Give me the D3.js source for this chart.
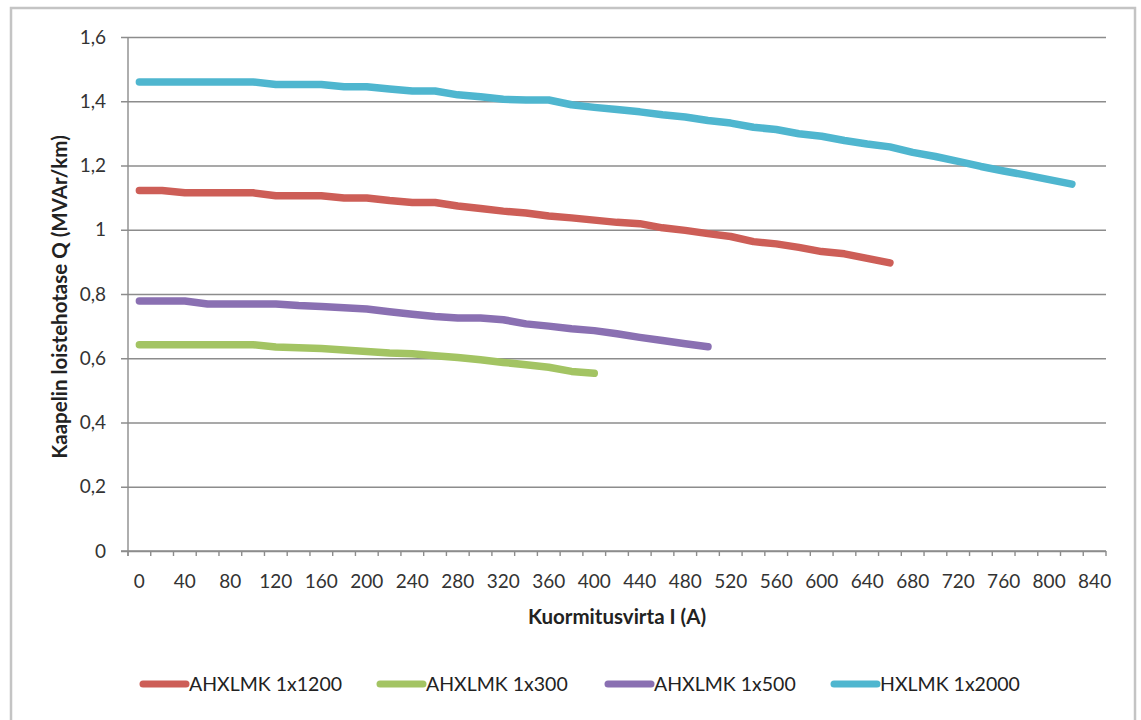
<!DOCTYPE html>
<html>
<head>
<meta charset="utf-8">
<script src="https://cdn.jsdelivr.net/npm/d3@7"></script>
<style>
  html, body { margin: 0; padding: 0; background: #ffffff; }
  svg { display: block; }
</style>
</head>
<body>
<svg id="chart" width="1141" height="720"></svg>
<script>
// Load current categories (A)
const currents = [0, 20, 40, 60, 80, 100, 120, 140, 160, 180, 200, 220, 240, 260, 280, 300,
  320, 340, 360, 380, 400, 420, 440, 460, 480, 500, 520, 540, 560, 580, 600, 620, 640, 660,
  680, 700, 720, 740, 760, 780, 800, 820, 840];

// Reactive power balance Q (MVAr/km) per cable type
const ahxlmk1x1200 = [1.122, 1.122, 1.115, 1.115, 1.115, 1.115, 1.106, 1.106, 1.106, 1.099,
  1.099, 1.091, 1.085, 1.085, 1.074, 1.066, 1.058, 1.052, 1.043, 1.037, 1.030, 1.023, 1.019,
  1.006, 0.998, 0.988, 0.979, 0.963, 0.956, 0.945, 0.932, 0.925, 0.911, 0.897];
const ahxlmk1x300 = [0.642, 0.642, 0.642, 0.642, 0.642, 0.642, 0.635, 0.633, 0.630, 0.626,
  0.621, 0.616, 0.614, 0.608, 0.602, 0.595, 0.587, 0.580, 0.572, 0.559, 0.553];
const ahxlmk1x500 = [0.778, 0.778, 0.778, 0.769, 0.769, 0.769, 0.769, 0.764, 0.761, 0.757,
  0.753, 0.745, 0.737, 0.730, 0.725, 0.725, 0.720, 0.707, 0.700, 0.692, 0.686, 0.676, 0.665,
  0.655, 0.645, 0.636];
const hxlmk1x2000 = [1.460, 1.460, 1.460, 1.460, 1.460, 1.460, 1.452, 1.452, 1.452, 1.445,
  1.445, 1.438, 1.432, 1.432, 1.420, 1.414, 1.406, 1.404, 1.404, 1.389, 1.381, 1.374, 1.367,
  1.358, 1.351, 1.340, 1.332, 1.319, 1.312, 1.299, 1.291, 1.278, 1.267, 1.258, 1.241, 1.228,
  1.213, 1.197, 1.183, 1.170, 1.156, 1.142];

const seriesNames = ["AHXLMK 1x1200", "AHXLMK 1x300", "AHXLMK 1x500", "HXLMK 1x2000"];
const seriesColors = ["#cd5e57", "#a3c463", "#8a70b2", "#4fb6cf"];
const yTicks = [0, 0.2, 0.4, 0.6, 0.8, 1, 1.2, 1.4, 1.6];

const series = [ahxlmk1x1200, ahxlmk1x300, ahxlmk1x500, hxlmk1x2000].map((vals, i) => ({
  name: seriesNames[i],
  color: seriesColors[i],
  points: vals.map((v, j) => ({ x: currents[j], y: v }))
}));

const svg = d3.select("#chart");
const FONT = "Lato, 'Open Sans', sans-serif";
const plot = { left: 128, right: 1106, top: 37, bottom: 551 };

// outer chart frame
svg.append("rect")
  .attr("x", 11).attr("y", 8)
  .attr("width", 1124).attr("height", 730)
  .attr("fill", "#ffffff")
  .attr("stroke", "#c4c4c4")
  .attr("stroke-width", 2.5);

const x = d3.scaleBand()
  .domain(currents)
  .range([plot.left, plot.right])
  .padding(0);

const y = d3.scaleLinear()
  .domain([0, 1.6])
  .range([plot.bottom, plot.top]);

const fmt = v => (v === 0 ? "0" : (Number.isInteger(v) ? String(v) : v.toFixed(1).replace(".", ",")));

// horizontal gridlines with y axis
const yAxis = d3.axisLeft(y)
  .tickValues(yTicks)
  .tickFormat(fmt)
  .tickSize(-(plot.right - plot.left + 7))
  .tickPadding(15);

const gy = svg.append("g")
  .attr("transform", `translate(${plot.left - 7},0)`)
  .call(yAxis);
gy.select(".domain").remove();
gy.selectAll(".tick line")
  .attr("stroke", "#8c8c8c")
  .attr("stroke-width", 1.4);
gy.selectAll(".tick text")
  .attr("font-family", FONT)
  .attr("font-size", 19)
  .attr("fill", "#333");

// vertical axis line
svg.append("line")
  .attr("x1", plot.left).attr("x2", plot.left)
  .attr("y1", plot.top).attr("y2", plot.bottom + 5)
  .attr("stroke", "#8c8c8c")
  .attr("stroke-width", 1.4);

// x axis: ticks at category boundaries, labels at every other category
const gx = svg.append("g")
  .attr("transform", `translate(0,${plot.bottom})`);
gx.append("line")
  .attr("x1", plot.left - 7).attr("x2", plot.right)
  .attr("y1", 0).attr("y2", 0)
  .attr("stroke", "#8c8c8c")
  .attr("stroke-width", 1.4);
gx.selectAll("line.tick")
  .data(currents.concat(["end"]))
  .join("line")
  .attr("class", "tick")
  .attr("x1", d => d === "end" ? plot.right : x(d))
  .attr("x2", d => d === "end" ? plot.right : x(d))
  .attr("y1", 0).attr("y2", 5)
  .attr("stroke", "#8c8c8c")
  .attr("stroke-width", 1.4);
gx.selectAll("text.lbl")
  .data(currents.filter((d, i) => i % 2 === 0))
  .join("text")
  .attr("class", "lbl")
  .attr("x", d => x(d) + x.bandwidth() / 2)
  .attr("y", 37)
  .attr("text-anchor", "middle")
  .attr("font-family", FONT)
  .attr("font-size", 19)
  .attr("fill", "#333")
  .text(d => d);

// axis titles
svg.append("text")
  .attr("x", 617).attr("y", 624)
  .attr("text-anchor", "middle")
  .attr("font-family", FONT)
  .attr("font-weight", "bold")
  .attr("font-size", 20.5)
  .attr("fill", "#222")
  .text("Kuormitusvirta I (A)");

svg.append("text")
  .attr("transform", "translate(67,297) rotate(-90)")
  .attr("text-anchor", "middle")
  .attr("font-family", FONT)
  .attr("font-weight", "bold")
  .attr("font-size", 20.5)
  .attr("fill", "#222")
  .text("Kaapelin loistehotase Q (MVAr/km)");

// data lines
const line = d3.line()
  .x(d => x(d.x) + x.bandwidth() / 2)
  .y(d => y(d.y));

svg.append("g").selectAll("path")
  .data(series)
  .join("path")
  .attr("d", d => line(d.points))
  .attr("fill", "none")
  .attr("stroke", d => d.color)
  .attr("stroke-width", 7.5)
  .attr("stroke-linecap", "round")
  .attr("stroke-linejoin", "round");

// legend
const legendX = [140, 377, 605, 831];
const lg = svg.append("g").attr("transform", "translate(0,684)");
const item = lg.selectAll("g")
  .data(series)
  .join("g")
  .attr("transform", (d, i) => `translate(${legendX[i]},0)`);
item.append("line")
  .attr("x1", 3).attr("x2", 46)
  .attr("y1", 0).attr("y2", 0)
  .attr("stroke", d => d.color)
  .attr("stroke-width", 7)
  .attr("stroke-linecap", "round");
item.append("text")
  .attr("x", 49).attr("y", 7)
  .attr("font-family", FONT)
  .attr("font-size", 19.5)
  .attr("fill", "#222")
  .text(d => d.name);
</script>
</body>
</html>
